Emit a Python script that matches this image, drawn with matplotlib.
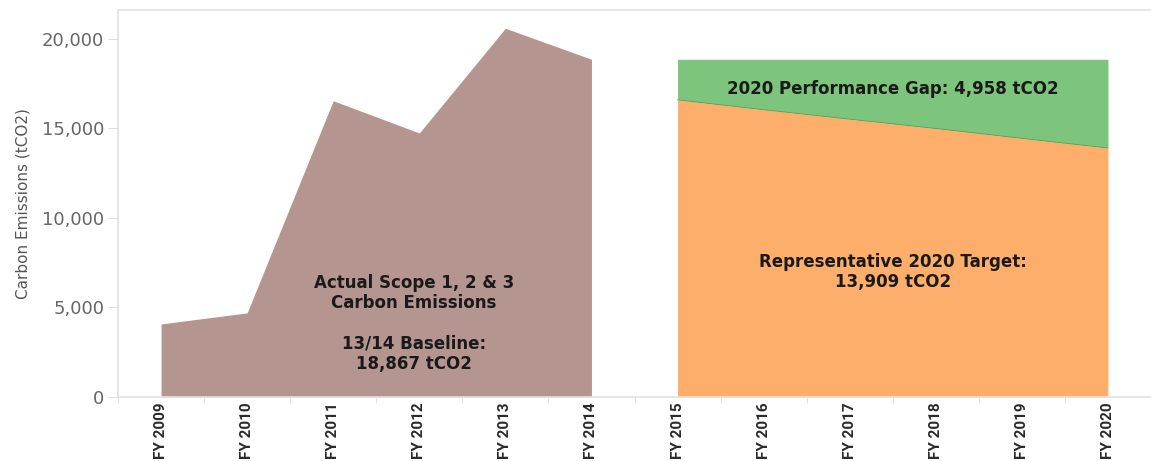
import matplotlib
matplotlib.use("Agg")
import matplotlib.pyplot as plt
import numpy as np

years_actual = [2009, 2010, 2011, 2012, 2013, 2014]
emissions_actual = [4080, 4700, 16550, 14750, 20600, 18867]

years_target = [2015, 2016, 2017, 2018, 2019, 2020]
target_values = [16600, 16050, 15520, 15000, 14450, 13909]
baseline_values = [18867, 18867, 18867, 18867, 18867, 18867]

tick_years = list(range(2009, 2021))
tick_labels = [f"FY {y}" for y in tick_years]
y_ticks = [0, 5000, 10000, 15000, 20000]

fig = plt.figure(figsize=(11.51, 4.61), dpi=100)
ax = fig.add_axes([118/1151, 1 - 397/461, 1 - 118/1151, 387/461])

brown = "#b5958f"
green = "#7dc47c"
orange = "#fdae6b"

ax.fill_between(years_actual, 0, emissions_actual, color=brown, linewidth=0)
ax.fill_between(years_target, target_values, baseline_values, color=green, linewidth=0)
ax.fill_between(years_target, 0, target_values, color=orange, linewidth=0)
ax.plot(years_target, target_values, color="#5aa04a", linewidth=0.6)

ax.set_xlim(2008.5, 2020.43)
ax.set_ylim(0, 21620)

ax.set_xticks(tick_years)
ax.set_xticklabels(tick_labels, rotation=90, fontsize=11, fontweight="bold",
                   color="#2a2a2a", family=["Roboto", "DejaVu Sans"])
ax.tick_params(axis="x", length=0, pad=4)
ax.set_xticks(np.arange(2008.5, 2020.6, 1.0), minor=True)
ax.tick_params(axis="x", which="minor", length=4, color="#dddddd")

ax.set_yticks(y_ticks)
ax.set_yticklabels([f"{v:,}" for v in y_ticks], fontsize=13, color="#666666")
ax.tick_params(axis="y", length=7, color="#dddddd", pad=3)
ax.set_ylabel("Carbon Emissions (tCO2)", fontsize=11, color="#555555",
              family=["Liberation Sans Narrow", "DejaVu Sans"], labelpad=8)

for side in ["left", "top", "bottom"]:
    ax.spines[side].set_color("#e2e2e2")
    ax.spines[side].set_linewidth(1.2)
ax.spines["right"].set_visible(False)

txt_kw = dict(ha="center", va="center", fontsize=12, fontweight="bold",
              color="#1a1a1a", linespacing=1.15)
ax.text(2011.94, 4110,
        "Actual Scope 1, 2 & 3\nCarbon Emissions\n\n13/14 Baseline:\n18,867 tCO2",
        **txt_kw)
ax.text(2017.5, 17210, "2020 Performance Gap: 4,958 tCO2", **txt_kw)
ax.text(2017.5, 6990, "Representative 2020 Target:\n13,909 tCO2", **txt_kw)

fig.savefig("out.png", dpi=100)
